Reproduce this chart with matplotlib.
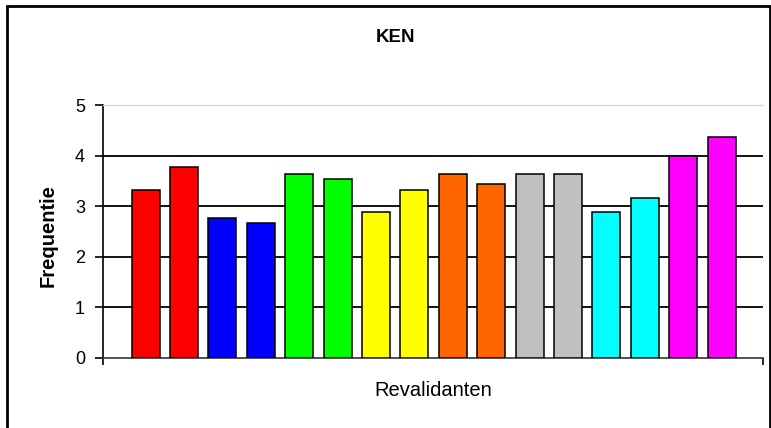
import matplotlib
matplotlib.use("Agg")
import matplotlib.pyplot as plt
from matplotlib.patches import Rectangle

plt.rcParams['font.family'] = ['Liberation Sans', 'DejaVu Sans']

# frequency per revalidant, two bars per colour group
values = [3.33, 3.77, 2.77, 2.66, 3.64, 3.53, 2.89, 3.33,
          3.64, 3.44, 3.64, 3.64, 2.89, 3.17, 4.0, 4.36]
colors = ['#FF0000', '#FF0000', '#0000FF', '#0000FF', '#00FF00', '#00FF00',
          '#FFFF00', '#FFFF00', '#FF6600', '#FF6600', '#C0C0C0', '#C0C0C0',
          '#00FFFF', '#00FFFF', '#FF00FF', '#FF00FF']
yticks = [0, 1, 2, 3, 4, 5]

W, H = 771, 428
fig = plt.figure(figsize=(W / 100, H / 100), dpi=100)
ax = fig.add_axes([103 / W, (H - 358) / H, 660 / W, 253 / H])

x = list(range(len(values)))
ax.bar(x, values, width=0.73, color=colors, edgecolor='black', linewidth=1.1, zorder=3)

xmin, xmax = -1.11, 16.08
ax.set_xlim(xmin, xmax)
ax.set_ylim(0, 5)

for y in yticks[1:-1]:
    ax.axhline(y, color='black', linewidth=1.3, zorder=1)

ax.set_yticks(yticks)
ax.set_yticklabels([str(t) for t in yticks], fontsize=13)
ax.set_xticks([xmin, xmax])
ax.set_xticklabels(['', ''])
ax.tick_params(axis='y', direction='out', length=6, width=1.2, pad=7)
ax.tick_params(axis='x', direction='out', length=5, width=1.2)

ax.spines['right'].set_visible(False)
ax.spines['top'].set_color('#d8d8d8')
ax.spines['top'].set_linewidth(1.0)
ax.spines['left'].set_linewidth(1.2)
ax.spines['bottom'].set_color('#333333')
ax.spines['bottom'].set_linewidth(1.2)

fig.text(396 / W, 1 - 37 / H, 'KEN', ha='center', va='center',
         fontsize=13.5, fontweight='bold')
fig.text(433 / W, 1 - 390 / H, 'Revalidanten', ha='center', va='center', fontsize=14.5)
fig.text(48 / W, 1 - 236 / H, 'Frequentie', ha='center', va='center',
         rotation=90, fontsize=14.5, fontweight='bold')

# chart frame
fig.patches.append(Rectangle((6.5 / W, -0.05), 763 / W, 1.05 - 6.5 / H,
                             transform=fig.transFigure, fill=False,
                             edgecolor='black', linewidth=2))

fig.savefig('out.png', dpi=100)
